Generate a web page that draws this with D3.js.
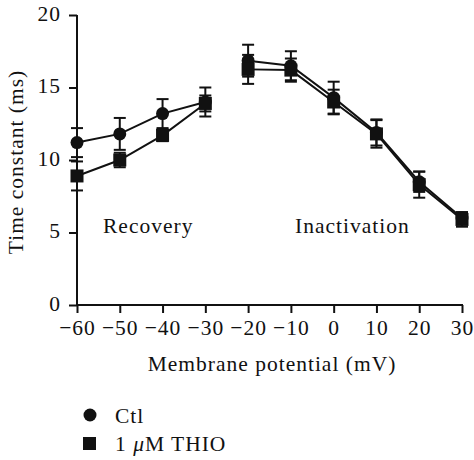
<!DOCTYPE html>
<html>
<head>
<meta charset="utf-8">
<script src="https://cdn.jsdelivr.net/npm/d3@7"></script>
<style>
  html, body { margin: 0; padding: 0; background: #fff; }
  svg text { font-family: "Liberation Serif", "Times New Roman", serif; fill: #111; }
</style>
</head>
<body>
<svg id="chart" width="474" height="460"></svg>
<script>
// ---- data ----
const recoveryV = [-60, -50, -40, -30];
const inactivationV = [-20, -10, 0, 10, 20, 30];
const ctlRecovery = [11.2, 11.8, 13.2, 14.0];
const ctlRecoveryErr = [1.0, 1.1, 1.0, 1.0];
const thioRecovery = [8.9, 10.0, 11.7, 13.9];
const thioRecoveryErr = [1.0, 0.5, 0.4, 0.55];
const ctlInactivation = [16.85, 16.5, 14.3, 11.9, 8.5, 6.0];
const ctlInactivationErr = [1.1, 1.0, 1.1, 0.9, 0.7, 0.4];
const thioInactivation = [16.25, 16.2, 14.0, 11.8, 8.3, 5.9];
const thioInactivationErr = [1.0, 0.8, 0.85, 0.95, 0.9, 0.5];
const xTicks = [-60, -50, -40, -30, -20, -10, 0, 10, 20, 30];
const yTicks = [0, 5, 10, 15, 20];
const seriesNames = ["Ctl", "1 μM THIO"];

// ---- layout ----
const svg = d3.select("#chart");
const x = d3.scaleLinear().domain([-60, 30]).range([77, 462]);
const y = d3.scaleLinear().domain([0, 20]).range([305, 15]);
const FS = 21.5, LS = 1.0;

const fmt = d => d < 0 ? "\u2212" + Math.abs(d) : String(d);

// axes
const xAxis = svg.append("g").attr("transform", `translate(0,${y(0)})`)
  .call(d3.axisBottom(x).tickValues(xTicks).tickSize(8).tickPadding(4).tickFormat(fmt));
const yAxis = svg.append("g").attr("transform", `translate(${x(-60)},0)`)
  .call(d3.axisLeft(y).tickValues(yTicks).tickSize(8).tickPadding(8).tickFormat(d => d));
[xAxis, yAxis].forEach(g => {
  g.selectAll("path.domain").attr("stroke", "#111").attr("stroke-width", 2);
  g.selectAll(".tick line").attr("stroke", "#111").attr("stroke-width", 2);
  g.selectAll("text").attr("font-size", FS).attr("letter-spacing", LS)
    .attr("font-family", "Liberation Serif").attr("fill", "#111");
});
xAxis.select("path.domain").attr("d", `M${x(-60)},0H${x(30) + 1}`);
yAxis.select("path.domain").attr("d", `M0,${y(20)}V${y(0)}`);
xAxis.selectAll(".tick text").attr("dy", "0.85em");
yAxis.selectAll(".tick text").attr("dy", "0.25em");

// axis titles
svg.append("text").attr("x", 272).attr("y", 371).attr("text-anchor", "middle")
  .attr("font-size", FS).attr("letter-spacing", LS).text("Membrane potential (mV)");
svg.append("text").attr("transform", "translate(23,162) rotate(-90)").attr("text-anchor", "middle")
  .attr("font-size", FS).attr("letter-spacing", LS).text("Time constant (ms)");

// region labels
svg.append("text").attr("x", 103).attr("y", 233).attr("font-size", FS).attr("letter-spacing", LS).text("Recovery");
svg.append("text").attr("x", 295).attr("y", 233).attr("font-size", FS).attr("letter-spacing", LS).text("Inactivation");

// series
const segs = [
  { xs: recoveryV, ys: ctlRecovery, es: ctlRecoveryErr, type: "circle" },
  { xs: inactivationV, ys: ctlInactivation, es: ctlInactivationErr, type: "circle" },
  { xs: recoveryV, ys: thioRecovery, es: thioRecoveryErr, type: "square" },
  { xs: inactivationV, ys: thioInactivation, es: thioInactivationErr, type: "square" }
];
const line = d3.line().x(d => x(d.v)).y(d => y(d.t));
const capW = 6;
segs.forEach(s => {
  const pts = s.xs.map((v, i) => ({ v, t: s.ys[i], e: s.es[i] }));
  const g = svg.append("g");
  g.append("path").datum(pts).attr("d", line).attr("fill", "none").attr("stroke", "#111").attr("stroke-width", 2);
  const eb = g.selectAll("g.eb").data(pts).join("g").attr("stroke", "#111").attr("stroke-width", 2);
  eb.append("line").attr("x1", d => x(d.v)).attr("x2", d => x(d.v)).attr("y1", d => y(d.t + d.e)).attr("y2", d => y(d.t - d.e));
  eb.append("line").attr("x1", d => x(d.v) - capW).attr("x2", d => x(d.v) + capW).attr("y1", d => y(d.t + d.e)).attr("y2", d => y(d.t + d.e));
  eb.append("line").attr("x1", d => x(d.v) - capW).attr("x2", d => x(d.v) + capW).attr("y1", d => y(d.t - d.e)).attr("y2", d => y(d.t - d.e));
  if (s.type === "circle") {
    g.selectAll("circle").data(pts).join("circle").attr("cx", d => x(d.v)).attr("cy", d => y(d.t)).attr("r", 6.5).attr("fill", "#111");
  } else {
    g.selectAll("rect.m").data(pts).join("rect").attr("class", "m")
      .attr("x", d => x(d.v) - 6.5).attr("y", d => y(d.t) - 6.5).attr("width", 13).attr("height", 13).attr("fill", "#111");
  }
});

// legend
const lg = svg.append("g");
lg.append("circle").attr("cx", 90).attr("cy", 415).attr("r", 6.5).attr("fill", "#111");
lg.append("rect").attr("x", 83).attr("y", 437).attr("width", 13).attr("height", 13).attr("fill", "#111");
lg.append("text").attr("x", 115).attr("y", 423).attr("font-size", FS).attr("letter-spacing", LS).text(seriesNames[0]);
const t2 = lg.append("text").attr("x", 115).attr("y", 451).attr("font-size", FS).attr("letter-spacing", LS);
t2.append("tspan").text("1 ");
t2.append("tspan").attr("font-style", "italic").text("μ");
t2.append("tspan").text("M THIO");
</script>
</body>
</html>
